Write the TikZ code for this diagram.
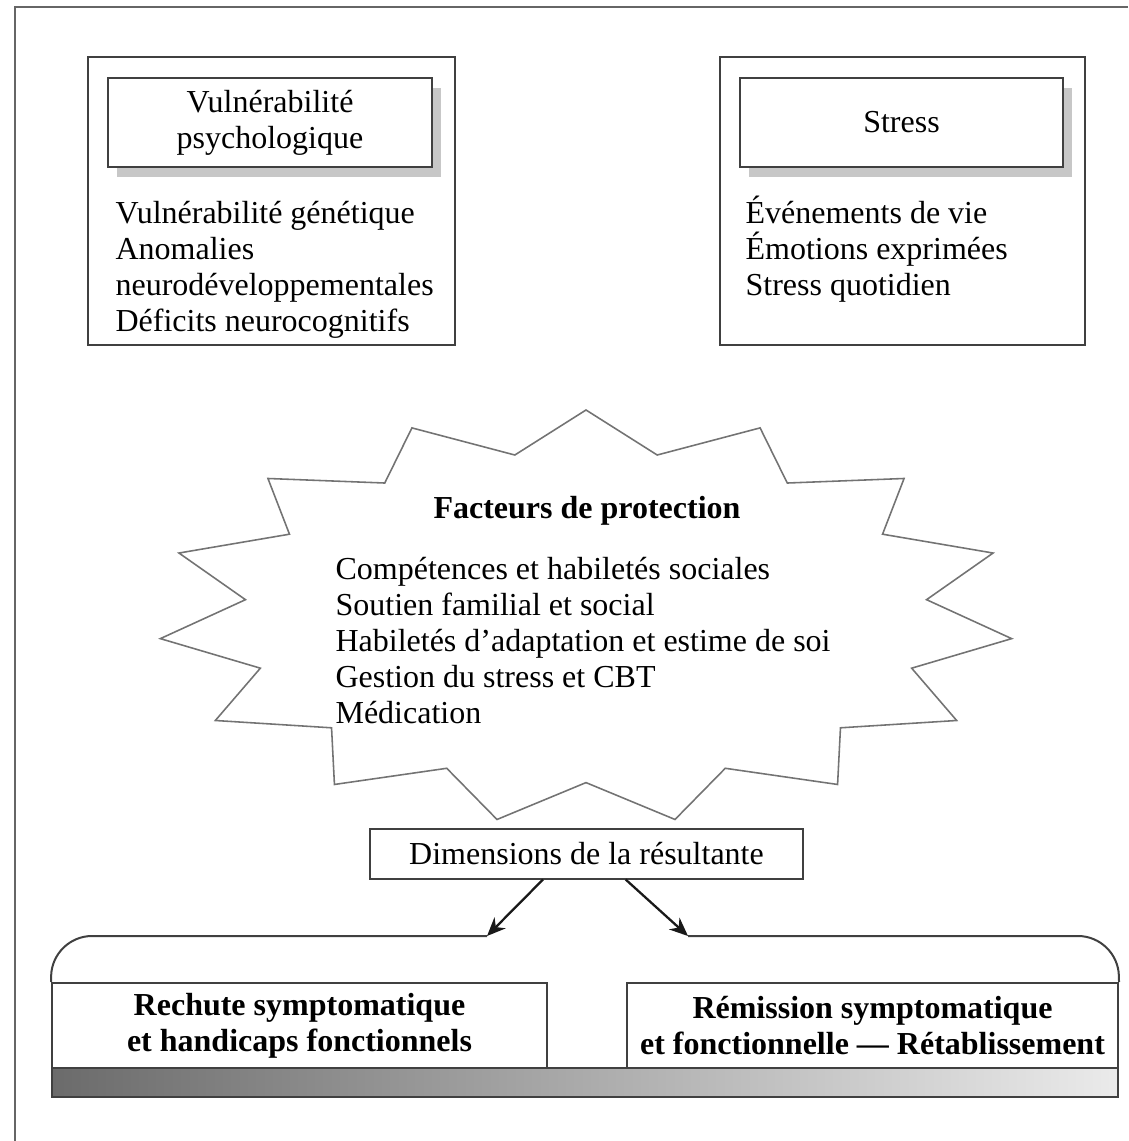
\documentclass[tikz,border=0pt]{standalone}
\usepackage{fontspec}
\setmainfont{Liberation Serif}
\usetikzlibrary{positioning, shadows, arrows.meta, calc}
\newcommand{\px}[1]{#1*0.35pt}
\newcommand{\diagfont}{\fontsize{11.2}{12.6}\selectfont}
\tikzset{%
  frame/.style     = {draw = black!75, line width = 0.7pt},
  block/.style     = {frame, rectangle, fill = white, inner sep = 0pt},
  titlebox/.style  = {block, drop shadow = {shadow xshift = 3pt,
    shadow yshift = -3.5pt, fill = black!22, opacity = 1}},
  list/.style      = {anchor = west, align = left, inner sep = 0pt},
  result/.style    = {block, align = center, font = \diagfont\bfseries},
  starline/.style  = {draw = black!55, line width = 0.55pt},
  connector/.style = {-{Stealth[length = 6.5pt, width = 5.5pt]},
    line width = 0.8pt, black!90}
}

\begin{document}
\begin{tikzpicture}[x = 0.35pt, y = -0.35pt,
  every node/.append style = {font = \diagfont}]
\useasboundingbox (0,0) rectangle (1128,1141);
% outer frame
\draw[draw = black!60, line width = 0.7pt] (1128,7) -- (15,7) -- (15,1141);
% upper blocks
\draw
	(271.5,201) node [block, minimum width = \px{367}, minimum height = \px{288}] (vbox) {}
	(902.5,201) node [block, minimum width = \px{365}, minimum height = \px{288}] (sbox) {}
	(270,122.5) node [titlebox, align = center, minimum width = \px{324},
	  minimum height = \px{89}] (vuln) {Vulnérabilité\\psychologique}
	(901.5,122.5) node [titlebox, minimum width = \px{323},
	  minimum height = \px{89}] (stress) {Stress};
% lists
\node [list] (vlist) at (115,270) {Vulnérabilité génétique\\Anomalies\\neurodéveloppementales\\Déficits neurocognitifs};
\node [list] (slist) at (745,249) {Événements de vie\\Émotions exprimées\\Stress quotidien};
% protection star
\draw[starline] plot[variable = \k, samples at = {0,...,29}]
  ({586 + 428*(1 - 0.2*mod(\k,2))*cos(90 + 12*\k)},
   {617 - 207*(1 - 0.2*mod(\k,2))*sin(90 + 12*\k)}) -- cycle;
\node [font = \diagfont\bfseries] (prot) at (587,511) {Facteurs de protection};
\node [list] (plist) at (335,641) {Compétences et habiletés sociales\\Soutien familial et social\\Habiletés d’adaptation et estime de soi\\Gestion du stress et CBT\\Médication};
% outcome blocks
\draw
	(586.5,853.5) node [block, minimum width = \px{433}, minimum height = \px{50}] (dims) {Dimensions de la résultante}
	(299.5,1025.5) node [result, minimum width = \px{495}, minimum height = \px{85}] (rechute) {Rechute symptomatique\\et handicaps fonctionnels}
	(872.5,1025.5) node [result, minimum width = \px{491}, minimum height = \px{85}] (remission) {Rémission symptomatique\\et fonctionnelle — Rétablissement}
	(585,1082.5) node [frame, left color = black!58, right color = black!8,
	  minimum width = \px{1066}, minimum height = \px{29}, inner sep = 0pt] (bar) {};
% arrows and bracket
\coordinate (lend) at (487,936);
\coordinate (rend) at (688,936);
\draw[connector] ($(dims.south west)!0.40!(dims.south east)$) -- (lend);
\draw[connector] ($(dims.south west)!0.59!(dims.south east)$) -- (rend);
\draw[frame, rounded corners = 14pt] (lend) -- (52,936) -- (rechute.north west);
\draw[frame, rounded corners = 14pt] (rend) -- (1118,936) -- (remission.north east);
\end{tikzpicture}
\end{document}
